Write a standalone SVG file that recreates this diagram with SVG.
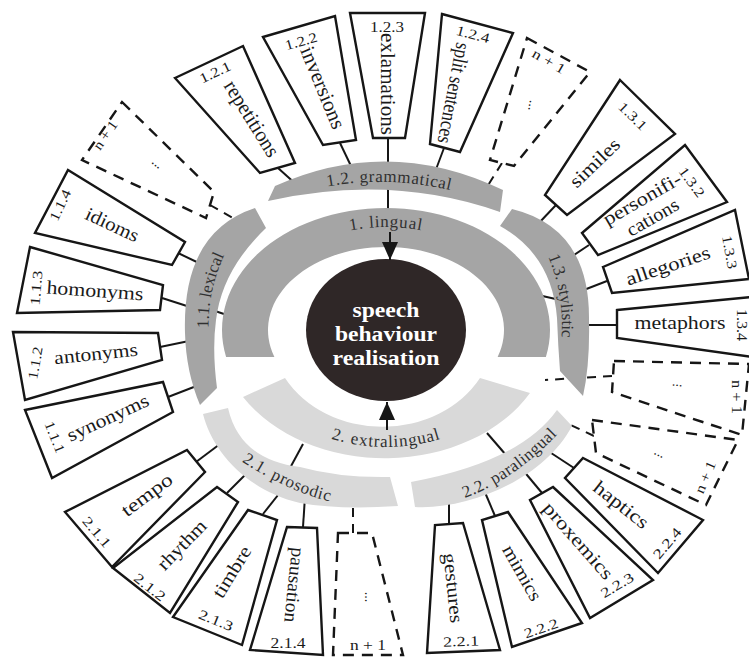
<svg xmlns="http://www.w3.org/2000/svg" width="749" height="657" viewBox="0 0 749 657">
<defs>
<style>
.box{fill:#fff;stroke:#161616;stroke-width:2.4;stroke-linejoin:miter}
.dbox{fill:#fff;stroke:#161616;stroke-width:2.4;stroke-dasharray:11 8}
.ln{stroke:#161616;stroke-width:2;fill:none}
.dl{stroke-dasharray:9 7}
.g1{fill:#a5a5a5}
.g2{fill:#d9d9d9}
.t{font-family:"Liberation Serif","Times New Roman",serif;fill:#1a1a1a;text-anchor:middle}
.n{font-size:14px}
.w{font-size:19px}
.v{font-size:21px}
.b{font-family:"Liberation Serif","Times New Roman",serif;font-size:17px;fill:#303030}
.c{font-family:"Liberation Serif","Times New Roman",serif;font-weight:bold;font-size:20px;fill:#fff;text-anchor:middle}
</style>
<marker id="ah" viewBox="0 0 18 16" refX="18" refY="8" markerWidth="18" markerHeight="16" markerUnits="userSpaceOnUse" orient="auto"><path d="M0,0 L18,8 L0,16 Z" fill="#161616"/></marker>
<path id="tp-gram" d="M 262 205 Q 387.5 155.5 515 212"/>
<path id="tp-ling" d="M 246 330 A 140 103 0 0 1 526 330"/>
<path id="tp-extra" d="M 238 331 A 148 116 0 0 0 534 331"/>
<path id="tp-lex" d="M 210 345 Q 203 291 232 240"/>
<path id="tp-sty" d="M 543 245 Q 568 296 560 350"/>
<path id="tp-pros" d="M 225 450 Q 292 498 350 505"/>
<path id="tp-para" d="M 440 505 Q 512 490 575 415"/>
</defs>
<rect width="749" height="657" fill="#fff"/>

<g id="connectors">
<path class="ln" d="M278 168 L298 186"/>
<path class="ln" d="M340 143 L351 166"/>
<path class="ln" d="M388 138 L388 212"/>
<path class="ln" d="M444 148 L435 172"/>
<path class="ln" d="M556 205 L538 224"/>
<path class="ln" d="M589 245 L568 259"/>
<path class="ln" d="M607 281 L576 293"/>
<path class="ln" d="M617 325 L585 325"/>
<path class="ln" d="M574 468 L545 449"/>
<path class="ln" d="M542 493 L522 469"/>
<path class="ln" d="M495 516 L484 490"/>
<path class="ln" d="M449 524 L449 500"/>
<path class="ln" d="M303 527 L305 497"/>
<path class="ln" d="M263 514 L282 490"/>
<path class="ln" d="M227 493 L250 470"/>
<path class="ln" d="M196 462 L220 444"/>
<path class="ln" d="M168 397 L199 385"/>
<path class="ln" d="M160 347 L189 341"/>
<path class="ln" d="M162 298 L190 307"/>
<path class="ln" d="M178 253 L203 265"/>
<path class="ln" d="M212 310 L230 316"/>
<path class="ln" d="M538 295 L560 300"/>
<path class="ln" d="M303 444 L290 468"/>
<path class="ln" d="M487 433 L506 455"/>
<path class="ln dl" d="M210 205 L240 222"/>
<path class="ln dl" d="M502 163 L480 198"/>
<path class="ln dl" d="M612 376 L545 380"/>
<path class="ln dl" d="M594 436 L560 420"/>
<path class="ln dl" d="M353 533 L353 500"/>
</g>

<g id="n-center">
<ellipse cx="386" cy="330" rx="80" ry="71" fill="#2f2727"/>
<text class="c" x="386" y="317" textLength="67" lengthAdjust="spacingAndGlyphs">speech</text>
<text class="c" x="386" y="341" textLength="102" lengthAdjust="spacingAndGlyphs">behaviour</text>
<text class="c" x="386" y="365" textLength="107" lengthAdjust="spacingAndGlyphs">realisation</text>
</g>
<g id="n-lingual">
<path class="g1" d="M 226.1 357 A 164 122 0 1 1 545.9 357 L 497.6 357 A 118 83 0 1 0 274.4 357 Z"/>
<text class="b" font-size="19" letter-spacing="0.8"><textPath href="#tp-ling" startOffset="50%" text-anchor="middle">1. lingual</textPath></text>
</g>
<g id="n-extralingual">
<path class="g2" d="M 243 397 A 166 127 0 0 0 530 393 L 480 378 A 112 96 0 0 1 285 378 Z"/>
<text class="b" font-size="19" letter-spacing="0.9"><textPath href="#tp-extra" startOffset="50%" text-anchor="middle">2. extralingual</textPath></text>
</g>
<g id="n-lexical">
<path class="g1" d="M 255 208 Q 182 232 185 333 Q 186 372 200 405 L 217 388 Q 212 350 216 320 Q 222 270 266 228 Z"/>
<text class="b"><textPath href="#tp-lex" startOffset="50%" text-anchor="middle">1.1. lexical</textPath></text>
</g>
<g id="n-grammatical">
<path class="g1" d="M 268 201 L 275 186 Q 388.5 135 503 190 L 500 212 Q 391 173.5 268 201 Z"/>
<text class="b" letter-spacing="0.6"><textPath href="#tp-gram" startOffset="50%" text-anchor="middle">1.2. grammatical</textPath></text>
</g>
<g id="n-stylistic">
<path class="g1" d="M 512 209 Q 590 228 589 320 Q 590 365 583 396 L 560 371 Q 558 345 557 318 Q 552 255 500 226 Z"/>
<text class="b"><textPath href="#tp-sty" startOffset="50%" text-anchor="middle">1.3. stylistic</textPath></text>
</g>
<g id="n-prosodic">
<path class="g2" d="M 203 414 C 212 450 245 490 300 503 Q 340 510 398 506 L 390 477 Q 340 478 300 467 Q 240 460 228 408 Z"/>
<text class="b" letter-spacing="0.7"><textPath href="#tp-pros" startOffset="50%" text-anchor="middle">2.1. prosodic</textPath></text>
</g>
<g id="n-paralingual">
<path class="g2" d="M 415 507 C 470 510 545 478 572 426 L 557 410 Q 520 462 411 482 Z"/>
<text class="b" letter-spacing="0.45"><textPath href="#tp-para" startOffset="50%" text-anchor="middle">2.2. paralingual</textPath></text>
</g>

<g id="connector-arrows">
<path class="ln" d="M390 232 L390 260" marker-end="url(#ah)"/>
<path class="ln" d="M387 430 L387 402" marker-end="url(#ah)"/>
</g>

<g id="n-1-2-1"><path class="box" d="M175,78 L243,46 L295,163 L260,173 Z"/>
<text class="t n" transform="translate(215 72) rotate(-25)" y="5" textLength="33" lengthAdjust="spacingAndGlyphs">1.2.1</text>
<text class="t v" transform="translate(251 119) rotate(58)" y="6" textLength="86" lengthAdjust="spacingAndGlyphs">repetitions</text></g>
<g id="n-1-2-2"><path class="box" d="M263,37 L335,16 L356,140 L323,145 Z"/>
<text class="t n" transform="translate(301 41) rotate(-16)" y="5" textLength="33" lengthAdjust="spacingAndGlyphs">1.2.2</text>
<text class="t v" transform="translate(322 88) rotate(67.6)" y="6" textLength="87" lengthAdjust="spacingAndGlyphs">inversions</text></g>
<g id="n-1-2-3"><path class="box" d="M350,13 L425,13 L405,138 L373,138 Z"/>
<text class="t n" transform="translate(387 27)" y="5" textLength="34" lengthAdjust="spacingAndGlyphs">1.2.3</text>
<text class="t v" transform="translate(387 84) rotate(90)" y="6" textLength="102" lengthAdjust="spacingAndGlyphs">exlamations</text></g>
<g id="n-1-2-4"><path class="box" d="M442,14 L513,33 L460,152 L430,144 Z"/>
<text class="t n" transform="translate(473 34) rotate(15)" y="5" textLength="34" lengthAdjust="spacingAndGlyphs">1.2.4</text>
<text class="t v" font-size="20" transform="translate(453 93) rotate(101)" y="6" textLength="102" lengthAdjust="spacingAndGlyphs">split sentences</text></g>
<g id="n-1-2-n"><path class="dbox" d="M527,38 L590,72 L514,166 L490,160 Z"/>
<text class="t n" transform="translate(549 61) rotate(30)" y="5" textLength="36" lengthAdjust="spacingAndGlyphs">n + 1</text>
<text class="t n" transform="translate(529 105) rotate(100)" y="0">...</text></g>

<g id="n-1-3-1"><path class="box" d="M620,80 L675,134 L567,215 L545,195 Z"/>
<text class="t n" transform="translate(633 116) rotate(44.5)" y="5" textLength="34" lengthAdjust="spacingAndGlyphs">1.3.1</text>
<text class="t w" transform="translate(595 163) rotate(-44)" y="6" textLength="62" lengthAdjust="spacingAndGlyphs">similes</text></g>
<g id="n-1-3-2"><path class="box" d="M685,145 L727,202 L598,255 L582,233 Z"/>
<text class="t n" transform="translate(692 182) rotate(53.6)" y="5" textLength="34" lengthAdjust="spacingAndGlyphs">1.3.2</text>
<text class="t w" transform="translate(650.5 213.5) rotate(-30)"><tspan x="0" y="-10.6" textLength="87" lengthAdjust="spacingAndGlyphs">personifi-</tspan><tspan x="0" y="10.6" textLength="57" lengthAdjust="spacingAndGlyphs">cations</tspan></text></g>
<g id="n-1-3-3"><path class="box" d="M603,267 L735,210 L749,279 L612,293 Z"/>
<text class="t n" transform="translate(730 252) rotate(80)" y="5" textLength="34" lengthAdjust="spacingAndGlyphs">1.3.3</text>
<text class="t w" transform="translate(668 266) rotate(-18.6)" y="6" textLength="88" lengthAdjust="spacingAndGlyphs">allegories</text></g>
<g id="n-1-3-4"><path class="box" d="M617,310 L752,297 L752,357 L617,338 Z"/>
<text class="t n" transform="translate(742 325) rotate(90)" y="5" textLength="32" lengthAdjust="spacingAndGlyphs">1.3.4</text>
<text class="t w" transform="translate(680 323)" y="6" textLength="91" lengthAdjust="spacingAndGlyphs">metaphors</text></g>
<g id="n-1-3-n"><path class="dbox" d="M614,361 L749,364 L742,435 L612,392 Z"/>
<text class="t n" transform="translate(677 386) rotate(5)" y="0">...</text>
<text class="t n" transform="translate(737 397) rotate(90)" y="5" textLength="34" lengthAdjust="spacingAndGlyphs">n + 1</text></g>

<g id="n-2-2-n"><path class="dbox" d="M592,420 L738,440 L706,505 L596,453 Z"/>
<text class="t n" transform="translate(658 456) rotate(25)" y="0">...</text>
<text class="t n" transform="translate(705 477) rotate(-67)" y="5" textLength="34" lengthAdjust="spacingAndGlyphs">n + 1</text></g>
<g id="n-2-2-4"><path class="box" d="M583,458 L703,520 L658,573 L565,478 Z"/>
<text class="t w" transform="translate(621 505) rotate(38)" y="6" textLength="65" lengthAdjust="spacingAndGlyphs">haptics</text>
<text class="t n" transform="translate(667 543) rotate(-50)" y="5" textLength="36" lengthAdjust="spacingAndGlyphs">2.2.4</text></g>
<g id="n-2-2-3"><path class="box" d="M553,487 L653,580 L590,618 L530,500 Z"/>
<text class="t w" transform="translate(578 541) rotate(48.8)" y="6" textLength="96" lengthAdjust="spacingAndGlyphs">proxemics</text>
<text class="t n" transform="translate(617 585) rotate(-31)" y="5" textLength="36" lengthAdjust="spacingAndGlyphs">2.2.3</text></g>
<g id="n-2-2-2"><path class="box" d="M508,512 L582,623 L512,647 L482,520 Z"/>
<text class="t w" transform="translate(522 573) rotate(60.5)" y="6" textLength="61" lengthAdjust="spacingAndGlyphs">mimics</text>
<text class="t n" transform="translate(541 628) rotate(-19)" y="5" textLength="35" lengthAdjust="spacingAndGlyphs">2.2.2</text></g>
<g id="n-2-2-1"><path class="box" d="M463,523 L500,650 L427,653 L435,525 Z"/>
<text class="t w" transform="translate(453 588) rotate(84)" y="6" textLength="70" lengthAdjust="spacingAndGlyphs">gestures</text>
<text class="t n" transform="translate(461 641) rotate(-2)" y="5" textLength="36" lengthAdjust="spacingAndGlyphs">2.2.1</text></g>

<g id="n-2-1-n"><path class="dbox" d="M338,533 L372,533 L403,655 L333,655 Z"/>
<text class="t n" transform="translate(365 597) rotate(90)" y="0">...</text>
<text class="t n" transform="translate(368 645)" y="5" textLength="36" lengthAdjust="spacingAndGlyphs">n + 1</text></g>
<g id="n-2-1-4"><path class="box" d="M287,527 L317,528 L323,655 L250,650 Z"/>
<text class="t w" transform="translate(294 585) rotate(96)" y="6" textLength="75" lengthAdjust="spacingAndGlyphs">pausation</text>
<text class="t n" transform="translate(288 643)" y="5" textLength="35" lengthAdjust="spacingAndGlyphs">2.1.4</text></g>
<g id="n-2-1-3"><path class="box" d="M248,510 L277,520 L242,645 L173,617 Z"/>
<text class="t w" transform="translate(232 572) rotate(-58.5)" y="6" textLength="57" lengthAdjust="spacingAndGlyphs">timbre</text>
<text class="t n" transform="translate(216 620) rotate(22)" y="5" textLength="36" lengthAdjust="spacingAndGlyphs">2.1.3</text></g>
<g id="n-2-1-2"><path class="box" d="M217,487 L238,502 L170,613 L113,568 Z"/>
<text class="t w" transform="translate(182 545) rotate(-46)" y="6" textLength="62" lengthAdjust="spacingAndGlyphs">rhythm</text>
<text class="t n" transform="translate(150 587) rotate(38)" y="5" textLength="36" lengthAdjust="spacingAndGlyphs">2.1.2</text></g>
<g id="n-2-1-1"><path class="box" d="M187,450 L205,472 L112,567 L65,512 Z"/>
<text class="t w" transform="translate(147 495) rotate(-36.7)" y="6" textLength="59" lengthAdjust="spacingAndGlyphs">tempo</text>
<text class="t n" transform="translate(97 532) rotate(49.5)" y="5" textLength="36" lengthAdjust="spacingAndGlyphs">2.1.1</text></g>

<g id="n-1-1-1"><path class="box" d="M25,410 L163,382 L173,412 L52,478 Z"/>
<text class="t w" transform="translate(108 418) rotate(-24.8)" y="6" textLength="88" lengthAdjust="spacingAndGlyphs">synonyms</text>
<text class="t n" transform="translate(55 437) rotate(68)" y="5" textLength="33" lengthAdjust="spacingAndGlyphs">1.1.1</text></g>
<g id="n-1-1-2"><path class="box" d="M13,332 L158,333 L162,360 L25,400 Z"/>
<text class="t w" transform="translate(96 354) rotate(-6)" y="6" textLength="84" lengthAdjust="spacingAndGlyphs">antonyms</text>
<text class="t n" transform="translate(35 363) rotate(-80)" y="5" textLength="33" lengthAdjust="spacingAndGlyphs">1.1.2</text></g>
<g id="n-1-1-3"><path class="box" d="M30,247 L163,285 L160,310 L17,313 Z"/>
<text class="t w" transform="translate(95 291) rotate(4)" y="6" textLength="97" lengthAdjust="spacingAndGlyphs">homonyms</text>
<text class="t n" transform="translate(36 288) rotate(-85)" y="5" textLength="35" lengthAdjust="spacingAndGlyphs">1.1.3</text></g>
<g id="n-1-1-4"><path class="box" d="M68,170 L185,242 L172,265 L35,233 Z"/>
<text class="t w" transform="translate(112 225) rotate(25)" y="6" textLength="57" lengthAdjust="spacingAndGlyphs">idioms</text>
<text class="t n" transform="translate(60 205) rotate(-65)" y="5" textLength="33" lengthAdjust="spacingAndGlyphs">1.1.4</text></g>
<g id="n-1-1-n"><path class="dbox" d="M122,102 L214,192 L206,218 L82,160 Z"/>
<text class="t n" transform="translate(105 135) rotate(-55)" y="5" textLength="32" lengthAdjust="spacingAndGlyphs">n + 1</text>
<text class="t n" transform="translate(155 166) rotate(40)" y="0">...</text></g>
</svg>
